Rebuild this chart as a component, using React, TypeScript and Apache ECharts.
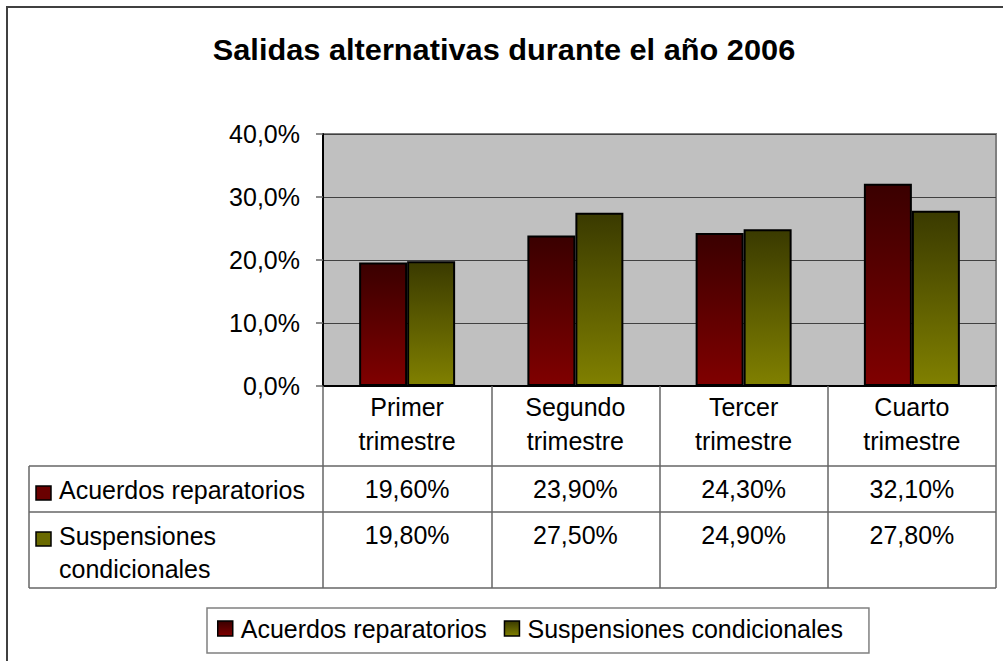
import React, { useEffect, useRef } from "react";
import * as echarts from "echarts";

const titleText = "Salidas alternativas durante el año 2006";
const categories = ["Primer\ntrimestre", "Segundo\ntrimestre", "Tercer\ntrimestre", "Cuarto\ntrimestre"];
const seriesNames = ["Acuerdos reparatorios", "Suspensiones condicionales"];
const tableLabels = ["Acuerdos reparatorios", "Suspensiones\ncondicionales"];
const acuerdos = [0.196, 0.239, 0.243, 0.321];
const suspensiones = [0.198, 0.275, 0.249, 0.278];
const yMin = 0;
const yMax = 0.4;
const yStep = 0.1;

const FONT = "Liberation Sans, Arial, sans-serif";
const FS = 25;
const GRID_LEFT = 323;
const GRID_TOP = 134;
const GRID_W = 673;
const GRID_H = 252;
const TABLE_LEFT = 29;
const ROW_Y = [466, 512, 588];

const redGrad = () =>
  new echarts.graphic.LinearGradient(0, 0, 0, 1, [
    { offset: 0, color: "#3a0000" },
    { offset: 1, color: "#800000" },
  ]);
const oliveGrad = () =>
  new echarts.graphic.LinearGradient(0, 0, 0, 1, [
    { offset: 0, color: "#3a3a00" },
    { offset: 1, color: "#808000" },
  ]);

const pct2 = (v: number) => (v * 100).toFixed(2).replace(".", ",") + "%";
const pct1 = (v: number) => (v * 100).toFixed(1).replace(".", ",") + "%";

export default function App() {
  const ref = useRef<HTMLDivElement>(null);
  useEffect(() => {
    if (!ref.current) return;
    const chart = echarts.init(ref.current, undefined, { renderer: "svg" });
    const colW = GRID_W / categories.length;
    const allSeries = [acuerdos, suspensiones];
    const graphics: any[] = [
      {
        type: "rect",
        shape: { x: 7, y: 7, width: 1010, height: 700 },
        style: { fill: "none", stroke: "#404040", lineWidth: 2 },
        silent: true,
      },
      {
        type: "text",
        x: 504,
        y: 50,
        scaleX: 1.06,
        style: {
          text: titleText,
          font: `bold 29px ${FONT}`,
          fill: "#000",
          align: "center",
          verticalAlign: "middle",
        },
      },
    ];
    ROW_Y.forEach((y) => {
      graphics.push({
        type: "line",
        shape: { x1: TABLE_LEFT, y1: y, x2: GRID_LEFT + GRID_W, y2: y },
        style: { stroke: "#666", lineWidth: 1.5 },
      });
    });
    graphics.push({
      type: "line",
      shape: { x1: TABLE_LEFT, y1: ROW_Y[0], x2: TABLE_LEFT, y2: ROW_Y[2] },
      style: { stroke: "#666", lineWidth: 1.5 },
    });
    const markerFill = ["#6a0000", "#6a6a00"];
    tableLabels.forEach((lab, s) => {
      const top = ROW_Y[s];
      graphics.push({
        type: "rect",
        shape: { x: 36, y: top + 20, width: 15, height: 14 },
        style: { fill: markerFill[s], stroke: "#000", lineWidth: 1.5 },
      });
      graphics.push({
        type: "text",
        x: 59,
        y: top + 7,
        style: {
          text: lab,
          font: `${FS}px ${FONT}`,
          fill: "#000",
          align: "left",
          verticalAlign: "top",
          lineHeight: 33,
        },
      });
      allSeries[s].forEach((v, i) => {
        graphics.push({
          type: "text",
          x: GRID_LEFT + colW * (i + 0.5),
          y: top + 6,
          style: {
            text: pct2(v),
            font: `${FS}px ${FONT}`,
            fill: "#000",
            align: "center",
            verticalAlign: "top",
            lineHeight: 33,
          },
        });
      });
    });

    chart.setOption({
      animation: false,
      grid: {
        left: GRID_LEFT,
        top: GRID_TOP,
        width: GRID_W,
        height: GRID_H,
        show: true,
        backgroundColor: "#c0c0c0",
        borderColor: "#808080",
        borderWidth: 2,
      },
      legend: {
        left: 207,
        top: 608,
        orient: "horizontal",
        data: seriesNames,
        icon: "rect",
        itemWidth: 15,
        itemHeight: 15,
        itemGap: 17,
        padding: [8, 26, 12, 10],
        borderColor: "#808080",
        borderWidth: 1.5,
        backgroundColor: "#fff",
        selectedMode: false,
        itemStyle: { borderColor: "#000", borderWidth: 1.5 },
        textStyle: { fontSize: FS, fontFamily: FONT, color: "#000", padding: [0, 0, 0, 3] },
      },
      xAxis: {
        type: "category",
        data: categories,
        axisLine: { show: true, lineStyle: { color: "#000", width: 2 } },
        axisTick: { show: true, length: ROW_Y[2] - (GRID_TOP + GRID_H), lineStyle: { color: "#666", width: 1.5 } },
        axisLabel: {
          interval: 0,
          margin: 4,
          fontSize: FS,
          fontFamily: FONT,
          color: "#000",
          lineHeight: 34,
          verticalAlign: "top",
        },
      },
      yAxis: {
        type: "value",
        min: yMin,
        max: yMax,
        interval: yStep,
        axisLine: { show: true, lineStyle: { color: "#000", width: 2 } },
        axisTick: { show: true, length: 7, lineStyle: { color: "#666", width: 1.5 } },
        splitLine: { show: true, lineStyle: { color: "#404040", width: 1.2 } },
        axisLabel: {
          margin: 23,
          fontSize: FS,
          fontFamily: FONT,
          color: "#000",
          formatter: (v: number) => pct1(v),
        },
      },
      series: [
        {
          name: seriesNames[0],
          type: "bar",
          data: acuerdos,
          barWidth: 48,
          barGap: "0%",
          itemStyle: { color: redGrad(), borderColor: "#000", borderWidth: 2 },
        },
        {
          name: seriesNames[1],
          type: "bar",
          data: suspensiones,
          barWidth: 48,
          barGap: "0%",
          itemStyle: { color: oliveGrad(), borderColor: "#000", borderWidth: 2 },
        },
      ],
      graphic: graphics,
    });
    return () => chart.dispose();
  }, []);
  return (
    <div
      ref={ref}
      style={{ position: "fixed", left: 0, top: 0, width: 1003, height: 661, background: "#fff" }}
    />
  );
}
